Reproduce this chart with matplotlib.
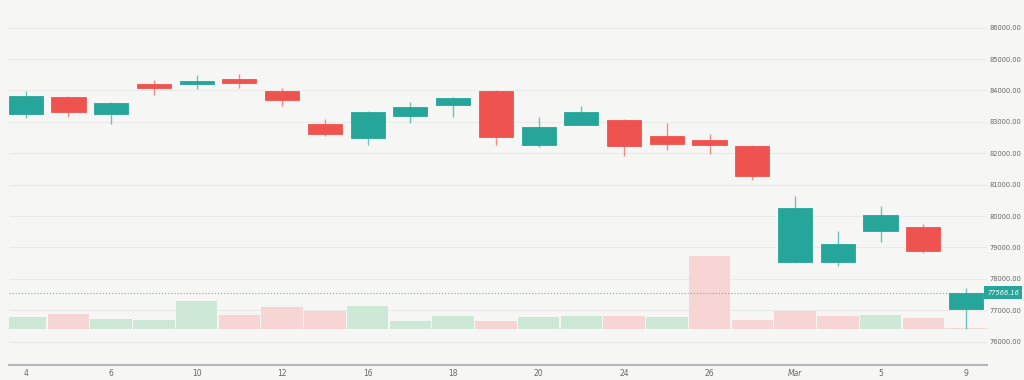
import matplotlib
matplotlib.use("Agg")
import matplotlib.pyplot as plt
from matplotlib.patches import Rectangle

# ---- data ----
opens  = [83252, 83783, 83252, 84207, 84217, 84376, 83994, 82924, 82487, 83197, 83548, 83994,
          82274, 82911, 83070, 82541, 82433, 82233, 78529, 78529, 79516, 79662, 77032]
highs  = [83984, 83815, 83634, 84334, 84503, 84516, 84080, 83092, 83357, 83634, 83803, 84016,
          83146, 83516, 83092, 82965, 82605, 82264, 80640, 79525, 80322, 79739, 77720]
lows   = [83115, 83146, 82924, 83866, 84057, 84080, 83516, 82551, 82274, 82975, 83166, 82264,
          82210, 82890, 81924, 82115, 81987, 81150, 78500, 78420, 79175, 78815, 76404]
closes = [83834, 83315, 83602, 84070, 84293, 84229, 83694, 82624, 83306, 83475, 83761, 82507,
          82828, 83315, 82221, 82287, 82264, 81287, 80248, 79121, 80025, 78898, 77566.16]
volumes = [1200, 1500, 1000, 900, 2770, 1430, 2200, 1830, 2270, 830, 1270, 830,
           1200, 1270, 1300, 1200, 7270, 930, 1830, 1300, 1370, 1130, 100]
volume_up = [True, False, True, True, True, False, False, False, True, True, True, False,
             True, True, False, True, False, False, False, False, True, False, False]
tick_idx = [0, 2, 4, 6, 8, 10, 12, 14, 16, 18, 20, 22]
tick_labels = ['4', '6', '10', '12', '16', '18', '20', '24', '26', 'Mar', '5', '9']
price_ticks = [76000, 77000, 78000, 79000, 80000, 81000, 82000, 83000, 84000, 85000, 86000]
last_price = closes[-1]

UP = '#26a69a'
DOWN = '#ef5350'
UP_VOL = '#cde8d7'
DOWN_VOL = '#f7d5d5'
BG = '#f6f7f4'

fig = plt.figure(figsize=(10.24, 3.8), dpi=100, facecolor=BG)
W, H = 1024, 380
ax = fig.add_axes([9 / W, 15 / H, (987 - 9) / W, 365 / H])
axv = ax.twinx()
ax.set_zorder(axv.get_zorder() + 1)
ax.patch.set_visible(False)
axv.set_facecolor(BG)

n = len(opens)
xlim = (-0.39, n - 1 + 0.49)
ax.set_xlim(*xlim)
ax.set_ylim(75258, 86882)

# grid (behind the volume bars)
for p in price_ticks:
    axv.plot(list(xlim), [p, p], transform=ax.transData, color='#e9ebe8', lw=0.8, zorder=0)

# volume
for i, v in enumerate(volumes):
    axv.bar(i, v, width=0.97, color=UP_VOL if volume_up[i] else DOWN_VOL, linewidth=0, zorder=1)
axv.set_ylim(-3600, 32900)
axv.set_yticks([])
for s in axv.spines.values():
    s.set_visible(False)

# candles
bw = 0.8
for i in range(n):
    o, h, l, c = opens[i], highs[i], lows[i], closes[i]
    col = UP if c >= o else DOWN
    ax.vlines(i, l, h, color=col, lw=1.0, alpha=0.65, zorder=2)
    ax.add_patch(Rectangle((i - bw / 2, min(o, c)), bw, max(abs(c - o), 20),
                           facecolor=col, edgecolor=col, lw=0.6, zorder=3))

# last price line
ax.axhline(last_price, color='#4dbcb0', lw=0.8, ls=(0, (1, 1.8)), zorder=1)

# axes styling
for k in ['top', 'left', 'right']:
    ax.spines[k].set_visible(False)
ax.spines['bottom'].set_color('#b2b5ba')
ax.spines['bottom'].set_linewidth(1.5)
ax.set_xticks(tick_idx)
ax.set_xticklabels(tick_labels, fontsize=5.5, color='#666666')
for lab in ax.get_xticklabels():
    if lab.get_text() == 'Mar':
        lab.set_fontstyle('italic')
ax.tick_params(axis='x', length=0, pad=3)
ax.yaxis.tick_right()
ax.set_yticks(price_ticks)
ax.set_yticklabels([f'{p:.2f}' for p in price_ticks], fontsize=4.8, color='#666666')
ax.tick_params(axis='y', length=0, pad=2)

# last price label
ax.text(1.0, last_price, f'{last_price:.2f}', transform=ax.get_yaxis_transform(),
        ha='left', va='center', fontsize=4.8, color='white', fontstyle='italic',
        bbox=dict(boxstyle='square,pad=0.5', facecolor=UP, edgecolor='none'),
        zorder=5, clip_on=False)

fig.savefig('out.png', dpi=100, facecolor=BG)
